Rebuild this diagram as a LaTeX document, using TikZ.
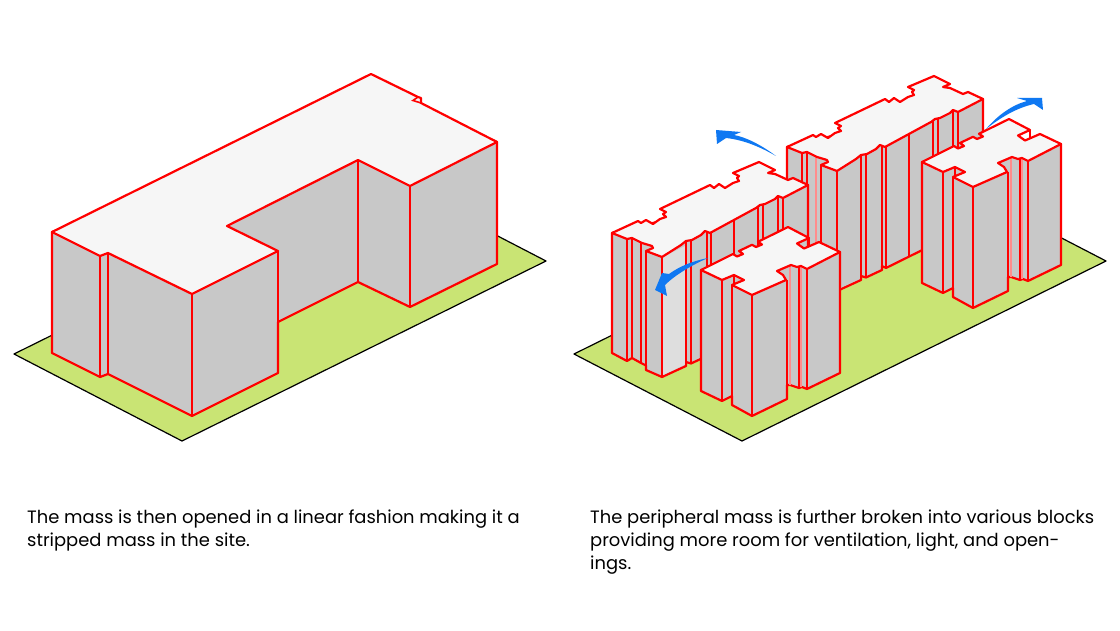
\documentclass[tikz,border=0pt]{standalone}
\usepackage{fontspec}
\setmainfont{Poppins}
\definecolor{siteGreen}{HTML}{C9E474}
\definecolor{wallGray}{HTML}{C8C8C8}
\definecolor{wallLight}{HTML}{DEDEDE}
\definecolor{roofWhite}{HTML}{F6F6F6}
\definecolor{arrowBlue}{HTML}{0F78F2}
\tikzset{
  site/.style={draw=black,fill=siteGreen,line width=1.2pt,line join=round},
  wall/.style={draw=red,fill=wallGray,line width=2.2pt,line join=round},
  roof/.style={draw=red,fill=roofWhite,line width=2.2pt,line join=round},
  edge/.style={draw=red,line width=2.2pt},
  softedge/.style={draw=red!45,line width=1.3pt},
  swoosh/.style={fill=arrowBlue},
  caption/.style={anchor=north west,align=left,inner sep=0pt,font=\fontsize{17.9}{23}\selectfont}
}
\newcommand{\stripblock}[2]{
\path[wall] (612,233) -- (612,353) -- (627,361) -- (632,358) -- (641,363) -- (646,365.5) -- (646,370) -- (662,377) -- (686,366) -- (686,362) -- (691,363.5) -- (707,356) -- (707,352) -- (711,354) -- (808,306) -- (808,185) -- cycle;
\fill[#2] (663,257) -- (663,375) -- (685,364.5) -- (685,246) -- cycle;
\foreach \x/\t/\b in {627/239/361,632/238/358,646/251/370,662/257/377,686/242/366,691/241/363.5,707/232/356,711/233/354}
  \draw[edge] (\x,\t) -- (\x,\b);
\draw[#1,line width=2.2pt] (641,243) -- (641,363);
\foreach \x/\t in {734/221,758/205,763/204,778/196,783/198,808/185}
  \draw[edge] (\x,\t) -- (\x,{354-0.495*(\x-711)});
\path[roof] (612,233) -- (638,221) -- (641,223) -- (646,220) -- (653,224) -- (660,219) -- (666,217) -- (663,214) -- (666,212) -- (660,209) -- (710,185) -- (714,188) -- (719,184) -- (725,188) -- (733,183) -- (739,181) -- (737,178) -- (739,176) -- (733,173) -- (759,162) -- (775,170) -- (768,173) -- (775,174) -- (788,180) -- (793,178) -- (808,185) -- (783,198) -- (778,196) -- (775,199) -- (765,204) -- (760,205) -- (756,208) -- (710,233) -- (705,231) -- (701,235) -- (692,240) -- (686,241) -- (681,245) -- (662,257) -- (646,251) -- (653,248) -- (652,246) -- (642,243) -- (632,238) -- (627,239) -- cycle;
}
\newcommand{\crossblock}{
\path[wall] (701,270) -- (701,391) -- (722,401) -- (732,396) -- (732,405) -- (752,416) -- (787,399) -- (787,385) -- (790,385) -- (799,388) -- (802,387) -- (807,389) -- (840,373) -- (840,252) -- cycle;
\foreach \x/\t/\b in {722/280/401,734/275/285,732/285/405,752/295/416,787/280/399,799/267/388,807/269/389}
  \draw[edge] (\x,\t) -- (\x,\b);
\foreach \x/\t/\b in {790/265/385,801/266/387}
  \draw[softedge] (\x,\t) -- (\x,\b);
\path[roof] (701,270) -- (733,254) -- (737,256.5) -- (743,254) -- (739,251) -- (752,244.8) -- (756,247) -- (762,244.5) -- (758,241.8) -- (788,227) -- (809,238) -- (797,243.5) -- (804,248.5) -- (819,242) -- (840,252) -- (807,269) -- (801,266) -- (797,267) -- (791,265) -- (777,271) -- (783,275) -- (786,280) -- (752,295) -- (732,285) -- (744,280) -- (734,275) -- (722,280) -- cycle;
\draw[edge] (809,238) -- (809,247);
}
\begin{document}
\begin{tikzpicture}[x=1pt,y=-1pt]
\useasboundingbox (0,0) rectangle (1120,631);
\fill[white] (0,0) rectangle (1120,631);

\path[site] (14,354) -- (182,441) -- (546,261) -- (378,174) -- cycle;
\path[wall] (52,232) -- (52,353) -- (100,377) -- (108,374) -- (192,416) -- (278,373) -- (278,322) -- (358,282) -- (410,307) -- (497,264) -- (497,142) -- (400,100) -- cycle;
\foreach \x/\t/\b in {100/256/377,108/253/374,192/294/416,278/251/373,358/160/282,410/186/307}
  \draw[edge] (\x,\t) -- (\x,\b);
\path[roof] (52,232) -- (371,74) -- (418,97) -- (421,98) -- (421,103) -- (497,142) -- (410,186) -- (358,160) -- (227,226) -- (278,251) -- (192,294) -- (108,253) -- (100,256) -- cycle;
\draw[edge,line width=1.6pt] (421,103) -- (413,100.5) -- (418,97);

\path[site] (574,354) -- (742,441) -- (1106,261) -- (938,174) -- cycle;
\begin{scope}[shift={(175,-86)}]
\stripblock{red!45}{wallGray}
\end{scope}
\begin{scope}[shift={(221,-108)}]
\crossblock
\end{scope}
\stripblock{red}{wallLight}
\crossblock

\fill[swoosh] (776,156) .. controls (760,144) and (745,137) .. (734,135) -- (741,132) -- (716,130) -- (717,144) -- (726,138) .. controls (745,140) and (762,148) .. cycle;
\fill[swoosh] (986,129) .. controls (998,115) and (1012,105) .. (1027,101) -- (1017,98) -- (1042,98) -- (1043,110) -- (1034,104) .. controls (1016,108) and (1000,118) .. cycle;
\fill[swoosh] (708,258) .. controls (693,261) and (680,266) .. (669,274) -- (662,273) -- (655,290) -- (667,296) -- (665,285) .. controls (675,275) and (692,265) .. cycle;

\node[caption] (capLeft) at (27,510) {The mass is then opened in a linear fashion making it a\\stripped mass in the site.};
\node[caption] (capRight) at (590,510) {The peripheral mass is further broken into various blocks\\providing more room for ventilation, light, and open-\\ings.};
\end{tikzpicture}
\end{document}
